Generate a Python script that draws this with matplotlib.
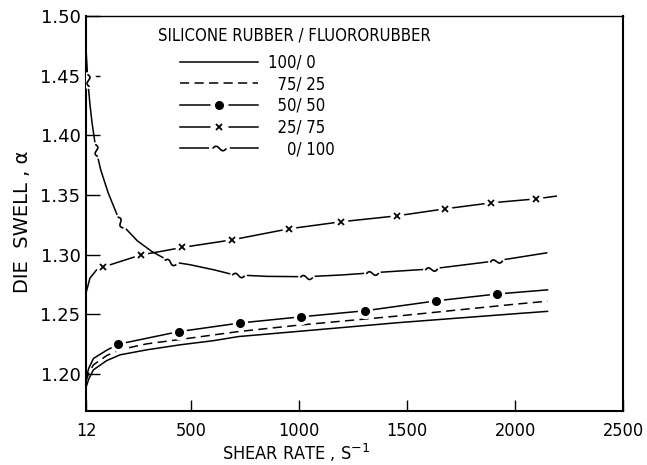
import numpy as np
import matplotlib
matplotlib.use("Agg")
import matplotlib.pyplot as plt
from matplotlib.lines import Line2D
from matplotlib.legend_handler import HandlerTuple
from matplotlib.markers import MarkerStyle
from matplotlib.path import Path
from matplotlib.transforms import Affine2D

# 100/0 silicone rubber / fluororubber (plain line)
x_100 = [12, 25, 46, 108, 170, 294, 449, 604, 719, 1000, 1463, 2000, 2150]
y_100 = [1.189, 1.196, 1.2035, 1.2113, 1.2161, 1.2203, 1.2245, 1.2280, 1.2314, 1.2358, 1.2431, 1.2505, 1.2525]

# 75/25 (dashed)
x_75 = [12, 25, 46, 108, 170, 294, 449, 719, 1000, 1463, 2000, 2150]
y_75 = [1.194, 1.201, 1.2077, 1.2155, 1.2205, 1.2253, 1.2290, 1.2356, 1.2410, 1.2487, 1.2585, 1.2610]

# 50/50 (dots)
x_50 = [12, 25, 46, 108, 162, 294, 441, 727, 1007, 1305, 1635, 1914, 2150]
y_50 = [1.197, 1.205, 1.2130, 1.2200, 1.2250, 1.2300, 1.2355, 1.2428, 1.2479, 1.2530, 1.2613, 1.2670, 1.2705]
x_50_mk = [162, 441, 727, 1007, 1305, 1635, 1914]
y_50_mk = [1.2250, 1.2355, 1.2428, 1.2479, 1.2530, 1.2613, 1.2670]

# 25/75 (crosses)
x_25 = [12, 30, 61, 89, 170, 267, 356, 457, 689, 951, 1193, 1453, 1677, 1890, 2098, 2190]
y_25 = [1.268, 1.2803, 1.2873, 1.2895, 1.2942, 1.2998, 1.3026, 1.3060, 1.3124, 1.3216, 1.3275, 1.3325, 1.3384, 1.3434, 1.3467, 1.3490]
x_25_mk = [89, 267, 457, 689, 951, 1193, 1453, 1677, 1890, 2098]
y_25_mk = [1.2895, 1.2998, 1.3060, 1.3124, 1.3216, 1.3275, 1.3325, 1.3384, 1.3434, 1.3467]

# 0/100 (tildes)
x_0 = [12, 20, 30, 40, 58, 80, 114, 170, 201, 250, 317, 402, 495, 604, 697, 850, 1030, 1200, 1337, 1611, 1913, 2146]
y_0 = [1.472, 1.446, 1.426, 1.410, 1.388, 1.371, 1.352, 1.327, 1.3208, 1.3115, 1.3026, 1.2942, 1.2915, 1.2873, 1.2831,
       1.2818, 1.2815, 1.2830, 1.2848, 1.2880, 1.2948, 1.3015]
x_0_mk = [20, 58, 170, 402, 714, 1030, 1337, 1611, 1913]
y_0_mk = [1.446, 1.388, 1.327, 1.2942, 1.2830, 1.2815, 1.2848, 1.2880, 1.2948]
rot_0_mk = [-80, -78, -62, -20, -3, 0, 4, 6, 8]

labels = ['100/ 0', '\u200775/ 25', '\u200750/ 50', '\u200725/ 75', '\u2007\u20070/ 100']

# thin hand-drawn looking tilde used as marker
t = np.linspace(-1, 1, 25)
tilde_path = Path(np.column_stack([t, -0.32 * np.sin(np.pi * t)]))


def tilde(angle):
    return MarkerStyle(tilde_path, fillstyle='none', transform=Affine2D().rotate_deg(angle))


fig = plt.figure(figsize=(6.47, 4.65), dpi=100)
ax = fig.add_axes([0.133, 0.116, 0.830, 0.850])

lw = 1.1
ax.plot(x_100, y_100, color='k', lw=lw)
ax.plot(x_75, y_75, color='k', lw=lw, dashes=(6, 3.5))
ax.plot(x_50, y_50, color='k', lw=lw)
ax.plot(x_50_mk, y_50_mk, 'o', color='white', ms=10, zorder=3)
ax.plot(x_50_mk, y_50_mk, 'o', color='k', ms=5.5, zorder=4)
ax.plot(x_25, y_25, color='k', lw=lw)
ax.plot(x_25_mk, y_25_mk, 'o', color='white', ms=9, zorder=3)
ax.plot(x_25_mk, y_25_mk, 'x', color='k', ms=4.5, mew=1.3, zorder=4)
ax.plot(x_0, y_0, color='k', lw=lw)
for xm, ym, r in zip(x_0_mk, y_0_mk, rot_0_mk):
    ax.plot([xm], [ym], 'o', color='white', ms=11, zorder=3)
    ax.plot([xm], [ym], marker=tilde(r), color='k', ms=9, mew=1.2, ls='none', zorder=4)

ax.set_xlim(12, 2500)
ax.set_ylim(1.169, 1.50)
ax.set_xticks([12, 500, 1000, 1500, 2000, 2500])
ax.set_xticklabels(['12', '500', '1000', '1500', '2000', '2500'], fontsize=13, fontstretch='condensed')
ax.set_yticks([1.20, 1.25, 1.30, 1.35, 1.40, 1.45, 1.50])
ax.set_yticklabels(['1.20', '1.25', '1.30', '1.35', '1.40', '1.45', '1.50'], fontsize=13)
ax.tick_params(axis='both', direction='in', width=1.0)
ax.tick_params(axis='y', length=10, pad=4)
ax.tick_params(axis='x', length=8, pad=8)
for s in ax.spines.values():
    s.set_linewidth(1.5)
ax.spines['top'].set_linewidth(1.0)

ax.set_xlabel('SHEAR RATE , S$^{-1}$', fontsize=13, fontstretch='condensed', labelpad=1, x=0.39)
ax.set_ylabel('DIE  SWELL , α', fontsize=14, labelpad=6, y=0.48)

# legend
ax.text(0.134, 0.949, 'SILICONE RUBBER / FLUORORUBBER', transform=ax.transAxes,
        fontsize=12, fontstretch='condensed', va='center', ha='left')
h_100 = Line2D([], [], color='k', lw=lw)
h_75 = Line2D([], [], color='k', lw=lw, dashes=(6, 3.5))
h_50 = (Line2D([], [], color='k', lw=lw),
        Line2D([], [], marker='o', color='white', ms=12, ls='none'),
        Line2D([], [], marker='o', color='k', ms=5.5, ls='none'))
h_25 = (Line2D([], [], color='k', lw=lw),
        Line2D([], [], marker='o', color='white', ms=12, ls='none'),
        Line2D([], [], marker='x', color='k', ms=4.5, mew=1.3, ls='none'))
h_0 = (Line2D([], [], color='k', lw=lw),
       Line2D([], [], marker='o', color='white', ms=14, ls='none'),
       Line2D([], [], marker=tilde(0), color='k', ms=10, mew=1.2, ls='none'))
leg = ax.legend([h_100, h_75, h_50, h_25, h_0], labels,
                handler_map={tuple: HandlerTuple(ndivide=1, pad=0)},
                loc='upper left', bbox_to_anchor=(0.175, 0.905), frameon=False,
                borderpad=0, borderaxespad=0, handlelength=4.7, handletextpad=0.55,
                labelspacing=0.22, prop={'size': 12, 'stretch': 'condensed'})

fig.savefig('out.png', dpi=100)
